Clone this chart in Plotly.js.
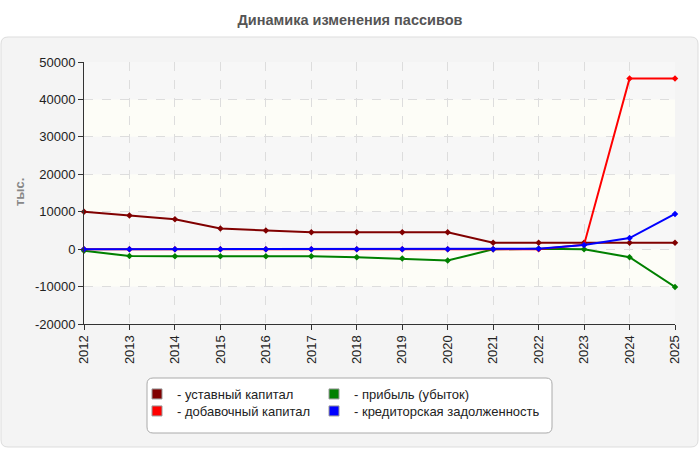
<!DOCTYPE html>
<html>
<head>
<meta charset="utf-8">
<script src="https://cdn.plot.ly/plotly-3.0.1.min.js"></script>
<style>html,body{margin:0;padding:0;background:#fff;}#chart{width:700px;height:450px;}</style>
</head>
<body>
<div id="chart"></div>
<script>
// ---- data ----
var years = [2012, 2013, 2014, 2015, 2016, 2017, 2018, 2019, 2020, 2021, 2022, 2023, 2024, 2025];
var ustavny = [10000, 9000, 8000, 5500, 5000, 4500, 4500, 4500, 4500, 1700, 1700, 1700, 1700, 1700];
var dobavochny = [0, 0, 0, 0, 0, 0, 0, 0, 0, 0, 0, 1200, 45600, 45600];
var pribyl = [-450, -1850, -1900, -1900, -1900, -1900, -2150, -2500, -3050, -50, 100, -50, -2150, -10100];
var kredit = [0, 0, 0, 0, 0, 0, 0, 0, 0, 0, 100, 1100, 2950, 9400];
var seriesNames = ['уставный капитал', 'добавочный капитал', 'прибыль (убыток)', 'кредиторская задолженность'];
var seriesColors = ['#800000', '#ff0000', '#008000', '#0000ff'];
var yTickVals = [-20000, -10000, 0, 10000, 20000, 30000, 40000, 50000];
var yTickText = ['-20000', '-10000', '0', '10000', '20000', '30000', '40000', '50000'];
var chartTitle = 'Динамика изменения пассивов';
var yTitle = 'тыс.';

// ---- layout helpers (page pixel -> paper fraction) ----
var L = 84, R = 675, T = 62, B = 324;
function xp(px) { return (px - L) / (R - L); }
function yp(py) { return (B - py) / (B - T); }
function roundRect(x0, y0, x1, y1, r) {
  var a = xp(x0), b = xp(x1), c = yp(y0), d = yp(y1);
  var rx = r / (R - L), ry = r / (B - T);
  return 'M' + (a + rx) + ',' + c + ' L' + (b - rx) + ',' + c +
    ' Q' + b + ',' + c + ' ' + b + ',' + (c - ry) +
    ' L' + b + ',' + (d + ry) + ' Q' + b + ',' + d + ' ' + (b - rx) + ',' + d +
    ' L' + (a + rx) + ',' + d + ' Q' + a + ',' + d + ' ' + a + ',' + (d + ry) +
    ' L' + a + ',' + (c - ry) + ' Q' + a + ',' + c + ' ' + (a + rx) + ',' + c + ' Z';
}

var FONT = 'Liberation Sans, Arial, sans-serif';
var values = [ustavny, dobavochny, pribyl, kredit];
var drawOrder = [0, 2, 1, 3];
var traces = [];
drawOrder.forEach(function (i) {
  traces.push({
    x: years, y: values[i], type: 'scatter', mode: 'lines+markers',
    name: seriesNames[i], showlegend: false, cliponaxis: false,
    line: { color: seriesColors[i], width: 2 },
    marker: { color: seriesColors[i], size: 5, symbol: 'diamond' },
    hoverinfo: 'x+y'
  });
});
// legend entries: one small legend per entry, two columns
var legendIds = ['legend', 'legend2', 'legend3', 'legend4'];
[0, 1, 2, 3].forEach(function (i) {
  traces.push({
    x: [null], y: [null], type: 'scatter', mode: 'markers',
    name: '- ' + seriesNames[i], legend: legendIds[i], showlegend: true,
    marker: { color: seriesColors[i], size: 10, symbol: 'square', line: { color: '#999', width: 1 } }
  });
});

var shapes = [];
shapes.push({ type: 'path', xref: 'paper', yref: 'paper', layer: 'below',
  path: roundRect(1, 37, 698, 447, 7), fillcolor: '#f4f4f4', line: { color: '#dddddd', width: 1 } });
shapes.push({ type: 'rect', xref: 'paper', yref: 'paper', layer: 'below',
  x0: 0, x1: 1, y0: 0, y1: 1, fillcolor: '#f7f7f7', line: { width: 0 } });
for (var k = 0; k < yTickVals.length - 1; k++) {
  if ((yTickVals.length - 2 - k) % 2 === 1) {
    shapes.push({ type: 'rect', xref: 'paper', yref: 'y', layer: 'below',
      x0: 0, x1: 1, y0: yTickVals[k], y1: yTickVals[k + 1], fillcolor: '#fdfdf7', line: { width: 0 } });
  }
}
shapes.push({ type: 'path', xref: 'paper', yref: 'paper', layer: 'below',
  path: roundRect(147, 378, 552, 433, 6), fillcolor: '#ffffff', line: { color: '#aaaaaa', width: 1 } });

function legendAt(px, py) {
  return { x: xp(px), y: yp(py), xanchor: 'left', yanchor: 'top', orientation: 'v',
    bgcolor: 'rgba(0,0,0,0)', borderwidth: 0, font: { family: FONT, size: 13, color: '#222' },
    itemwidth: 30, tracegroupgap: 0 };
}

var layout = {
  width: 700, height: 450,
  margin: { l: L, r: 700 - R, t: T, b: 450 - B },
  paper_bgcolor: '#ffffff', plot_bgcolor: 'rgba(0,0,0,0)',
  font: { family: FONT, size: 13, color: '#222' },
  title: { text: '<b>' + chartTitle + '</b>', font: { family: FONT, size: 14.5, color: '#555' },
    x: 0.5, xanchor: 'center', y: 1 - 20 / 450, yanchor: 'middle', xref: 'container', yref: 'container' },
  xaxis: {
    range: [2012, 2025], tickmode: 'linear', tick0: 2012, dtick: 1, tickangle: -90,
    showline: true, linecolor: '#333', linewidth: 1, ticks: 'outside', ticklen: 5, tickcolor: '#333',
    showgrid: true, gridcolor: '#dddddd', griddash: 'dash', gridwidth: 1, zeroline: false,
    tickfont: { family: FONT, size: 13, color: '#222' }, fixedrange: true
  },
  yaxis: {
    range: [-20000, 50000], tickmode: 'array', tickvals: yTickVals, ticktext: yTickText,
    showline: true, linecolor: '#333', linewidth: 1, ticks: 'outside', ticklen: 5, tickcolor: '#333',
    showgrid: true, gridcolor: '#dddddd', griddash: 'dash', gridwidth: 1, zeroline: false,
    tickfont: { family: FONT, size: 13, color: '#222' }, fixedrange: true
  },
  annotations: [{
    text: '<b>' + yTitle + '</b>', xref: 'paper', yref: 'paper', x: xp(19), y: yp(192),
    textangle: -90, showarrow: false, font: { family: FONT, size: 13, color: '#888' },
    xanchor: 'center', yanchor: 'middle'
  }],
  legend: legendAt(137, 379),
  legend2: legendAt(137, 396),
  legend3: legendAt(314, 379),
  legend4: legendAt(314, 396),
  shapes: shapes,
  showlegend: true
};

Plotly.newPlot('chart', traces, layout, { displayModeBar: false, staticPlot: true });
</script>
</body>
</html>
